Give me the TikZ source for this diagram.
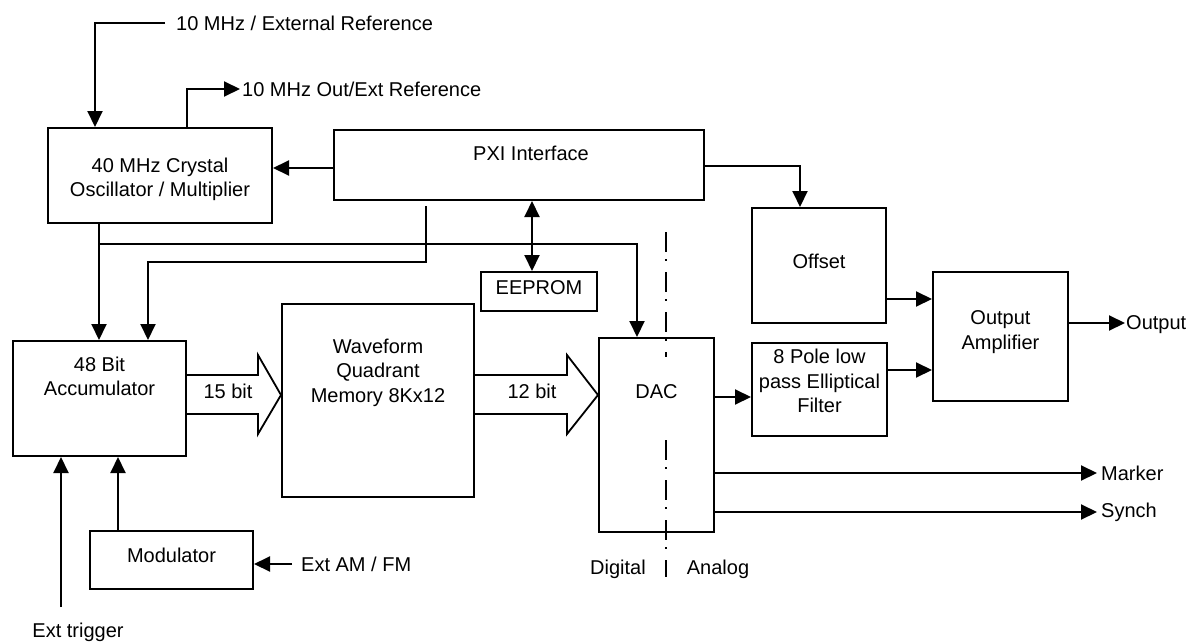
\documentclass[tikz,border=0pt]{standalone}
\usepackage{fontspec}
\setmainfont{Liberation Sans}
\usetikzlibrary{arrows.meta,calc}
\begin{document}
\begin{tikzpicture}[x=1pt,y=-1pt,
  font=\fontsize{20}{24.5}\selectfont,
  box/.style={draw,line width=2pt,inner sep=0pt},
  wire/.style={line width=2pt},
  arr/.style={wire,-{Triangle[length=16pt,width=15pt]}},
  dblarr/.style={wire,{Triangle[length=16pt,width=15pt]}-{Triangle[length=16pt,width=15pt]}},
  txt/.style={align=center,inner sep=0pt},
  tag/.style={anchor=west,inner ysep=0pt},
  bus/.style={line width=1.8pt,line join=miter},
  divide/.style={line width=1.5pt,dash pattern=on 20pt off 7pt on 2pt off 11pt}]
\useasboundingbox (0,0) rectangle (1191,642);

% functional blocks
\node[box,minimum width=224pt,minimum height=95pt,
  label={[txt,yshift=-4pt]center:{40 MHz Crystal\\Oscillator / Multiplier}}] (osc) at (160,175.5) {};
\node[box,minimum width=370pt,minimum height=70pt,
  label={[txt,xshift=12pt,yshift=12pt]center:PXI Interface}] (pxi) at (519,165) {};
\node[box,minimum width=116pt,minimum height=39pt,
  label={[txt,yshift=4pt]center:EEPROM}] (eeprom) at (539,291.5) {};
\node[box,minimum width=173pt,minimum height=115pt,
  label={[txt,yshift=22pt]center:{48 Bit\\Accumulator}}] (acc) at (99.5,398.5) {};
\node[box,minimum width=192pt,minimum height=193pt,
  label={[txt,yshift=28pt]center:{Waveform\\Quadrant\\Memory 8Kx12}}] (mem) at (378,400.5) {};
\node[box,minimum width=163pt,minimum height=58pt,
  label={[txt,yshift=5pt]center:Modulator}] (mod) at (171.5,560) {};
\node[box,minimum width=115pt,minimum height=194pt,
  label={[txt,yshift=43pt]center:DAC}] (dac) at (656.5,435) {};
\node[box,minimum width=135pt,minimum height=93pt,
  label={[txt,yshift=8.5pt]center:{8 Pole low\\pass Elliptical\\Filter}}] (filt) at (819.5,389.5) {};
\node[box,minimum width=134pt,minimum height=115pt,
  label={[txt,yshift=4.5pt]center:Offset}] (offset) at (819,265.5) {};
\node[box,minimum width=135pt,minimum height=129pt,
  label={[txt,yshift=4.5pt]center:{Output\\Amplifier}}] (amp) at (1000.5,336.5) {};

% external signal names
\node[tag,inner xsep=11pt] (reft) at (165,23) {10 MHz / External Reference};
\node[tag,inner xsep=2pt] (outt) at (240,89) {10 MHz Out/Ext Reference};
\node[txt] (trigt) at (78,632) {Ext trigger};
\node[tag,inner xsep=9pt] (amt) at (292,564) {Ext AM / FM};
\node[tag,inner xsep=1pt] (outp) at (1125,325) {Output};
\node[tag,inner xsep=4pt] (mark) at (1097,473) {Marker};
\node[tag,inner xsep=4pt] (syn) at (1097,512) {Synch};
\node[txt] (dig) at (618,569) {Digital};
\node[txt] (ana) at (718,569) {Analog};

% tap points of the wiring
\coordinate (trig) at (61,607);
\coordinate (pxitap) at (426,206);
\coordinate (split) at (99,244);

% reference clock in and out
\draw[arr] (reft.west) -| (osc.north -| 95,0);
\draw[arr] (osc.north -| 187,0) |- (outt.west);

% control from the PXI interface
\draw[arr] (pxi.west |- 0,168) -- (osc.east |- 0,168);
\draw[arr] (pxi.east |- 0,166) -| (offset.north -| 800,0);
\draw[dblarr] (pxi.south -| 532,0) -- (eeprom.north -| 532,0);
\draw[arr] (pxitap) |- (148,262) -- (acc.north -| 148,0);

% clock distribution
\draw[arr] (osc.south -| 99,0) -- (acc.north -| 99,0);
\draw[arr] (split) -| (dac.north -| 637,0);

% accumulator inputs
\draw[arr] (trig) -- (acc.south -| 61,0);
\draw[arr] (mod.north -| 118,0) -- (acc.south -| 118,0);
\draw[arr] (amt.west) -- (mod.east |- amt.west);

% data buses
\draw[bus] (acc.east |- 0,375) -- (258,375) -- (258,355) -- (mem.west |- 0,395)
  -- (258,434) -- (258,414) -- (acc.east |- 0,414);
\draw[bus] (mem.east |- 0,375) -- (567,375) -- (567,355) -- (dac.west |- 0,395)
  -- (567,434) -- (567,414) -- (mem.east |- 0,414);
\node[txt] (b15) at (228,391) {15 bit};
\node[txt] (b12) at (532,391) {12 bit};

% analog path
\draw[arr] (dac.east |- 0,397) -- (filt.west |- 0,397);
\draw[arr] (offset.east |- 0,299) -- (amp.west |- 0,299);
\draw[arr] (filt.east |- 0,370) -- (amp.west |- 0,370);
\draw[arr] (amp.east |- 0,323) -- (outp.west |- 0,323);
\draw[arr] (dac.east |- 0,473) -- (mark.west);
\draw[arr] (dac.east |- 0,512) -- (syn.west);

% digital / analog boundary
\draw[divide] (666,232) -- (666,357);
\draw[divide] (666,440) -- (666,577);
\end{tikzpicture}
\end{document}
